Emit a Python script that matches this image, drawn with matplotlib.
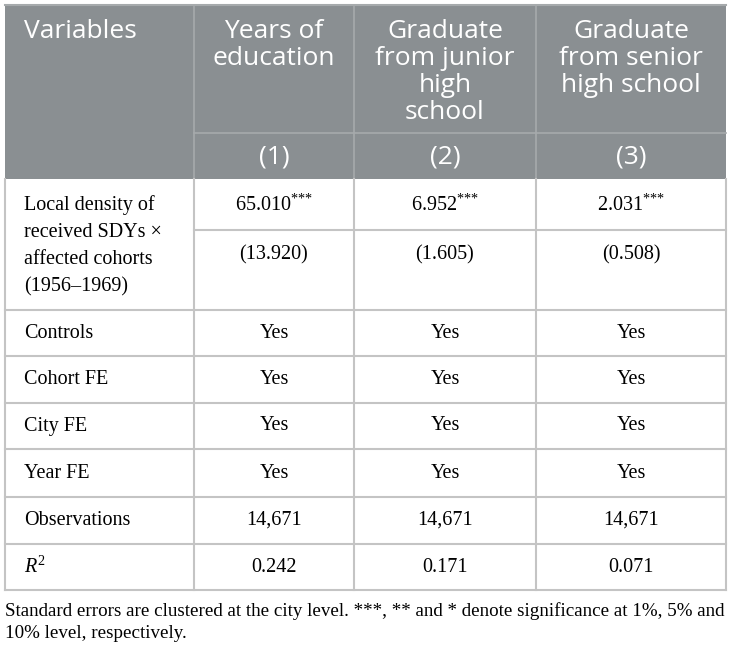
import matplotlib
matplotlib.use('Agg')
import matplotlib.pyplot as plt
from matplotlib.patches import Rectangle

plt.rcParams['mathtext.fontset'] = 'custom'
plt.rcParams['mathtext.rm'] = 'Liberation Serif'
plt.rcParams['mathtext.it'] = 'Liberation Serif:italic'

# table contents
header_cols = ['Years of\neducation', 'Graduate\nfrom junior\nhigh\nschool', 'Graduate\nfrom senior\nhigh school']
col_numbers = ['(1)', '(2)', '(3)']
interaction_label = ['Local density of', 'received SDYs \u00d7', 'affected cohorts', '(1956\u20131969)']
coefs = ['65.010', '6.952', '2.031']
stars = ['***', '***', '***']
ses = ['(13.920)', '(1.605)', '(0.508)']
fe_rows = ['Controls', 'Cohort FE', 'City FE', 'Year FE']
fe_vals = [['Yes', 'Yes', 'Yes']] * 4
obs = ['14,671', '14,671', '14,671']
r2 = ['0.242', '0.171', '0.071']
footnote = ['Standard errors are clustered at the city level. ***, ** and * denote significance at 1%, 5% and',
            '10% level, respectively.']

# layout (pixels)
col_x = [5, 194, 354, 536, 726]
head_gray = '#8a8f92'
head_line = '#a6aaac'
grid = '#c4c4c4'
serif = 'Liberation Serif'
sans = 'Open Sans'
fs_body = 14.5
fs_head = 19

fig = plt.figure(figsize=(7.31, 6.52), dpi=100)
ax = fig.add_axes([0, 0, 1, 1])
ax.set_xlim(0, 731)
ax.set_ylim(652, 0)
ax.axis('off')

# header block
ax.add_patch(Rectangle((col_x[0], 5), col_x[-1] - col_x[0], 174, facecolor=head_gray, edgecolor='none'))
for x in col_x[1:-1]:
    ax.plot([x, x], [5, 179], color=head_line, lw=1.2)
ax.plot([col_x[1], col_x[-1]], [133, 133], color=head_line, lw=1.2)
ax.plot([col_x[0], col_x[-1]], [5, 5], color=head_line, lw=1.5)

ax.text(24, 32, 'Variables', family=sans, fontsize=fs_head, color='white', va='center', ha='left')
for i, h in enumerate(header_cols):
    cx = (col_x[i + 1] + col_x[i + 2]) / 2
    for j, line in enumerate(h.split('\n')):
        ax.text(cx, 32 + j * 26.8, line, family=sans, fontsize=fs_head, color='white', va='center', ha='center')
    ax.text(cx, 157, col_numbers[i], family=sans, fontsize=fs_head, color='white', va='center', ha='center')

# body rows
row_y = [179, 310, 356, 403, 449, 497, 544, 590]
for y in row_y[1:]:
    ax.plot([col_x[0], col_x[-1]], [y, y], color=grid, lw=1.5)
ax.plot([col_x[1], col_x[-1]], [230, 230], color=grid, lw=1.5)
for x in col_x:
    ax.plot([x, x], [179, 590], color=grid, lw=1.5)

for j, line in enumerate(interaction_label):
    ax.text(24, 205 + j * 27.3, line, family=serif, fontsize=fs_body, va='center', ha='left')

for i in range(3):
    cx = (col_x[i + 1] + col_x[i + 2]) / 2
    sup = ''.join('{*}' for _ in stars[i])
    ax.text(cx, 205, coefs[i] + '$^{' + sup + '}$', family=serif, fontsize=fs_body, va='center', ha='center')
    ax.text(cx, 255, ses[i], family=serif, fontsize=fs_body, va='center', ha='center')

labels = fe_rows + ['Observations', '$R^2$']
values = fe_vals + [obs, r2]
for k, (lab, vals) in enumerate(zip(labels, values)):
    cy = (row_y[k + 1] + row_y[k + 2]) / 2
    ax.text(24, cy, lab, family=serif, fontsize=fs_body, va='center', ha='left')
    for i in range(3):
        cx = (col_x[i + 1] + col_x[i + 2]) / 2
        ax.text(cx, cy, vals[i], family=serif, fontsize=fs_body, va='center', ha='center')

for j, line in enumerate(footnote):
    ax.text(5, 611 + j * 23, line, family=serif, fontsize=13.7, va='center', ha='left')

fig.savefig('out.png', dpi=100)
